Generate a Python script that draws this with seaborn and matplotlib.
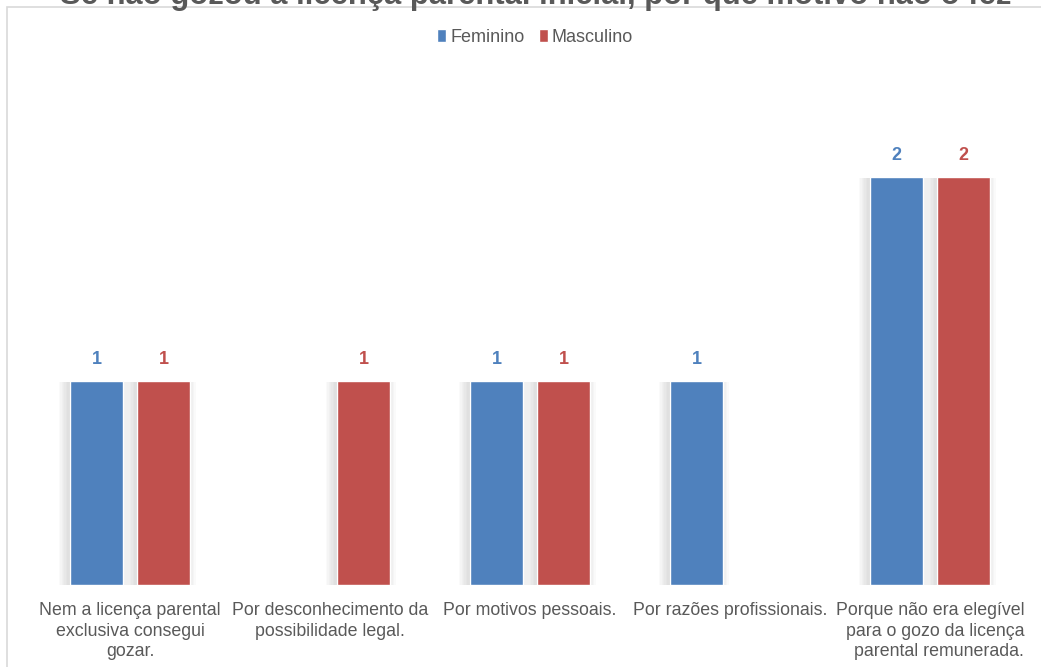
import seaborn as sns
import matplotlib.pyplot as plt
import matplotlib.patheffects as pe
from matplotlib.patches import Rectangle
import pandas as pd
import numpy as np

sns.set_style("white")
plt.rcParams["font.family"] = ["Liberation Sans", "DejaVu Sans"]

# ---- data ----
categories = [
    "Nem a licença parental\nexclusiva consegui\ngozar.",
    "Por desconhecimento da\npossibilidade legal.",
    "Por motivos pessoais.",
    "Por razões profissionais.",
    "Porque não era elegível\npara o gozo da licença\nparental remunerada.",
]
feminino = [1, np.nan, 1, 1, 2]
masculino = [1, 1, 1, np.nan, 2]
series = ["Feminino", "Masculino"]
colors = ["#4F81BD", "#C0504D"]
title = "Se não gozou a licença parental inicial, por que motivo não o fez"

df = pd.DataFrame({
    "Motivo": categories * 2,
    "Sexo": [series[0]] * len(categories) + [series[1]] * len(categories),
    "Valor": feminino + masculino,
})

fig = plt.figure(figsize=(10.41, 6.67), dpi=100)
ax = fig.add_axes([30 / 1041, 82 / 667, 1000 / 1041, 510 / 667])

sns.barplot(data=df, x="Motivo", y="Valor", hue="Sexo", order=categories,
            hue_order=series, palette=colors, width=0.67, gap=0.21,
            saturation=1, ax=ax, legend=True)

# soft blurred shadow (mostly to the left) like the Excel original
shadow = [pe.SimplePatchShadow(offset=(dx, -1), shadow_rgbFace="#808080", alpha=0.035)
          for dx in range(-8, 5)]
shadow.append(pe.Normal())
for cont, col in zip(ax.containers, colors):
    for p in cont:
        p.set_path_effects(shadow)
    ax.bar_label(cont, fmt="%d", color=col, fontsize=13, fontweight="bold", padding=9)

ax.set_ylim(0, 2.5)
ax.set_xlim(-0.5, len(categories) - 0.5)
ax.set_yticks([])
ax.set_xlabel("")
ax.set_ylabel("")
for s in ax.spines.values():
    s.set_visible(False)
ax.tick_params(axis="x", length=0, pad=12, labelsize=12.8, labelcolor="#595959")
for lab in ax.get_xticklabels():
    lab.set_linespacing(1.3)
ax.get_xticklabels()[-1].set_multialignment("right")

ax.legend(loc="center", bbox_to_anchor=(0.514, 1 - 37 / 667), bbox_transform=fig.transFigure,
          ncol=2, frameon=False, fontsize=13, labelcolor="#595959",
          handlelength=0.5, handleheight=0.7, handletextpad=0.2, columnspacing=0.8)

# chart frame and (cut off) title
fig.patches.append(Rectangle((7 / 1041, -0.01), 1.0, 1 - 7 / 667 + 0.01,
                             transform=fig.transFigure, fill=False,
                             edgecolor="#d9d9d9", linewidth=1.2))
fig.text(0.515, 1 - 4 / 667, title, ha="center", va="baseline",
         fontsize=22.3, fontweight="bold", color="#595959")

fig.savefig("out.png", dpi=100)
